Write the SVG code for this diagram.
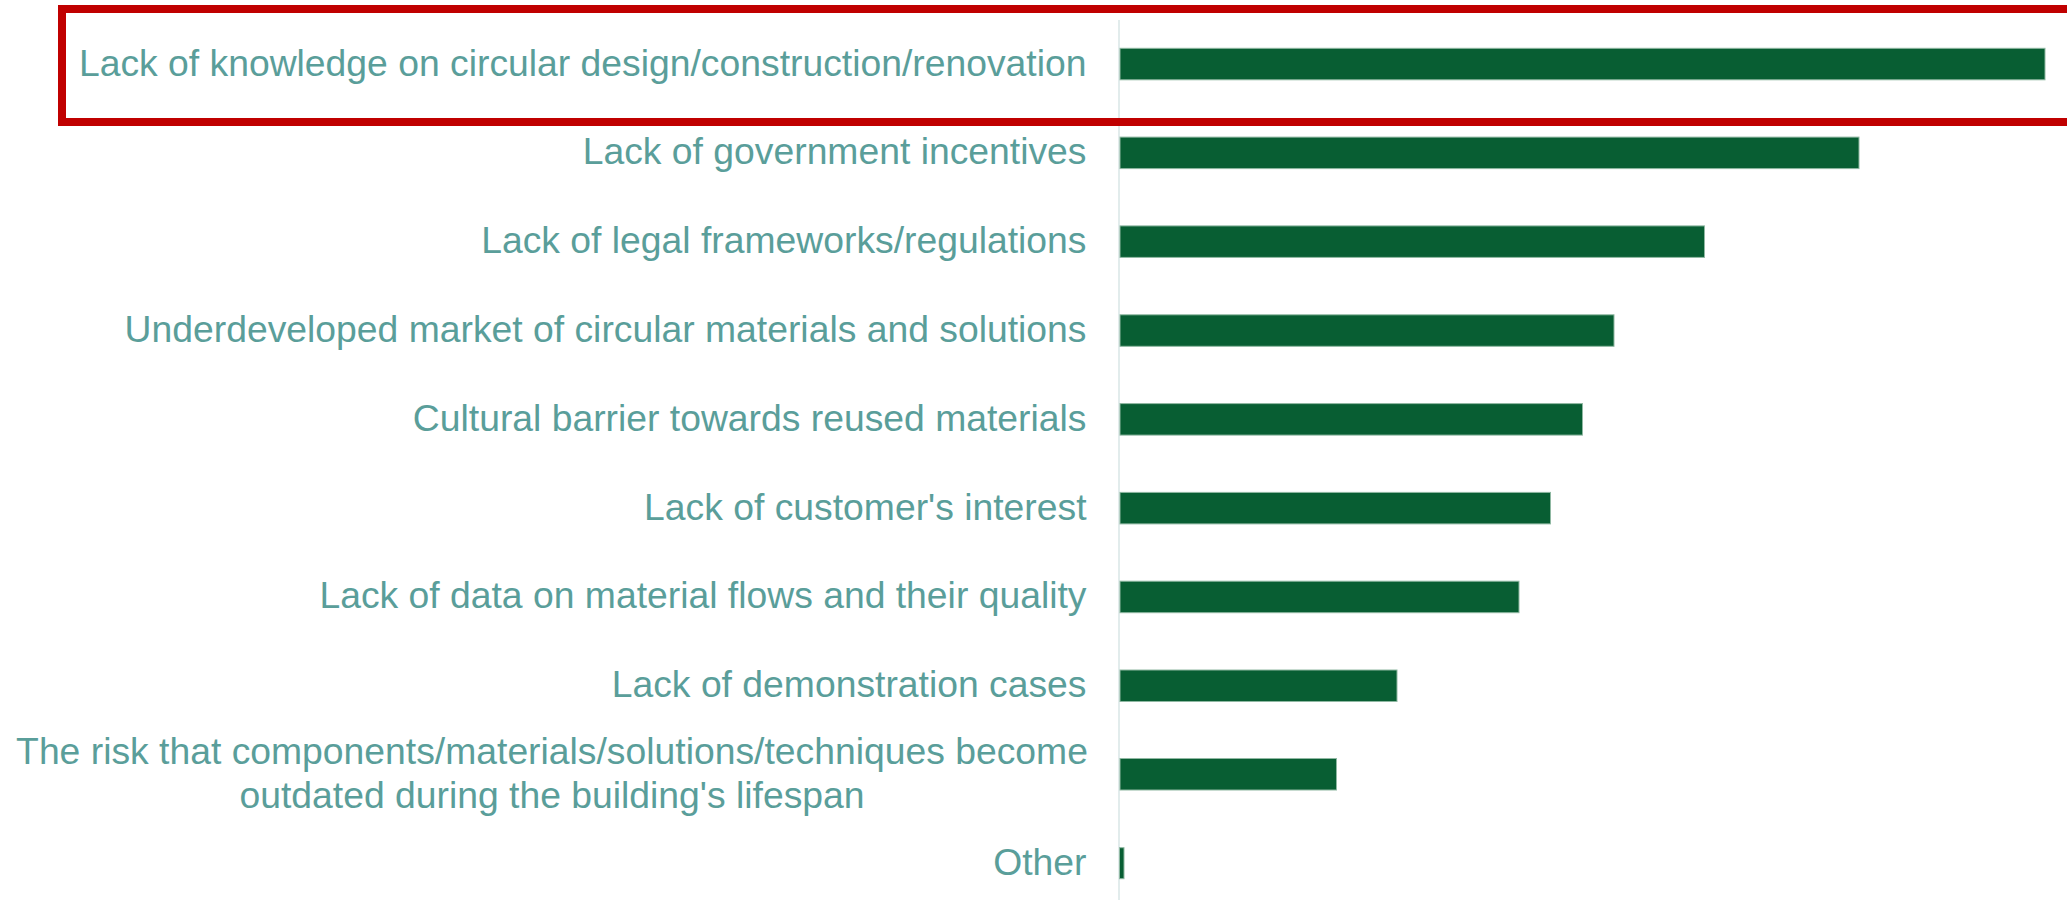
<svg xmlns="http://www.w3.org/2000/svg" width="2067" height="900" viewBox="0 0 2067 900">
<style>
.lbl{font-family:"Liberation Sans",Arial,sans-serif;font-size:37.3px;fill:#5a9e9a;text-anchor:end}
.lblc{font-family:"Liberation Sans",Arial,sans-serif;font-size:37.3px;fill:#5a9e9a;text-anchor:middle}
.bar{fill:#085e33;stroke:#8fb8a2;stroke-width:1}
</style>
<rect width="2067" height="900" fill="#ffffff"/>
<g id="axis">
<line x1="1119" y1="20" x2="1119" y2="900" stroke="#d8e6e6" stroke-width="1.5"/>
</g>
<g id="row1"><text class="lbl" x="1086.5" y="75.5">Lack of knowledge on circular design/construction/renovation</text><rect class="bar" x="1120" y="48.3" width="925" height="31.5"/></g>
<g id="row2"><text class="lbl" x="1086.5" y="164.3">Lack of government incentives</text><rect class="bar" x="1120" y="137.1" width="739" height="31.5"/></g>
<g id="row3"><text class="lbl" x="1086.5" y="253.1">Lack of legal frameworks/regulations</text><rect class="bar" x="1120" y="225.9" width="584.5" height="31.5"/></g>
<g id="row4"><text class="lbl" x="1086.5" y="341.9">Underdeveloped market of circular materials and solutions</text><rect class="bar" x="1120" y="314.8" width="494" height="31.5"/></g>
<g id="row5"><text class="lbl" x="1086.5" y="430.8">Cultural barrier towards reused materials</text><rect class="bar" x="1120" y="403.6" width="462.5" height="31.5"/></g>
<g id="row6"><text class="lbl" x="1086.5" y="519.6">Lack of customer's interest</text><rect class="bar" x="1120" y="492.4" width="430.5" height="31.5"/></g>
<g id="row7"><text class="lbl" x="1086.5" y="608.4">Lack of data on material flows and their quality</text><rect class="bar" x="1120" y="581.2" width="399" height="31.5"/></g>
<g id="row8"><text class="lbl" x="1086.5" y="697.2">Lack of demonstration cases</text><rect class="bar" x="1120" y="670" width="277" height="31.5"/></g>
<g id="row9"><text class="lblc" x="552" y="764">The risk that components/materials/solutions/techniques become</text><text class="lblc" x="552" y="807.5">outdated during the building's lifespan</text><rect class="bar" x="1120" y="758.5" width="216.5" height="31.5"/></g>
<g id="row10"><text class="lbl" x="1086.5" y="874.8">Other</text><rect class="bar" x="1119.5" y="847.7" width="4.5" height="31"/></g>
<g id="highlight">
<rect x="62" y="9" width="2030" height="113" fill="none" stroke="#c00000" stroke-width="8"/>
</g>
<g id="connectors"></g>
</svg>
